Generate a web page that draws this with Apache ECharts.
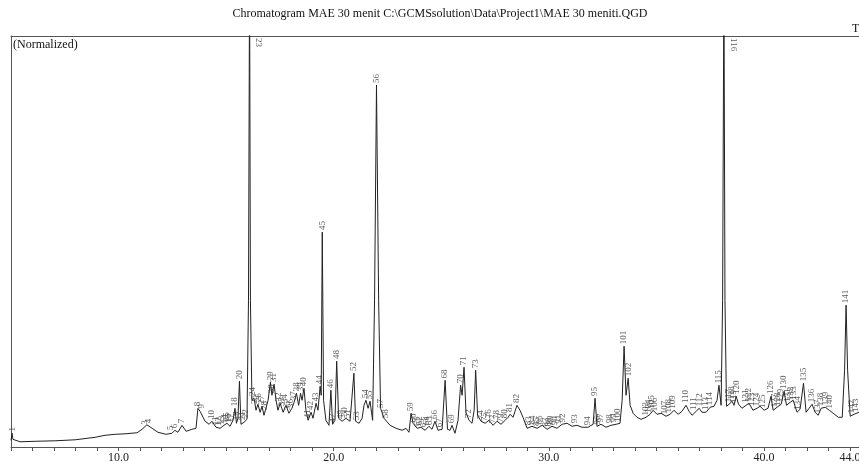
<!DOCTYPE html>
<html>
<head>
<meta charset="utf-8">
<script src="https://cdn.jsdelivr.net/npm/echarts@6/dist/echarts.min.js"></script>
<style>
html,body{margin:0;padding:0;background:#fff;}
#chart{width:859px;height:466px;}
</style>
</head>
<body>
<div id="chart"></div>
<script>
// Retention time (min) of trace points
var retentionTimes = [
5.00,5.05,5.09,5.42,6.12,7.05,7.98,8.91,9.37,9.84,10.30,10.86,11.09,11.32,11.56,11.83,12.21,12.48,12.62,12.76,
12.95,13.14,13.41,13.60,13.69,13.79,13.88,14.02,14.21,14.34,14.53,14.72,14.90,15.04,15.18,15.32,15.41,15.48,15.55,15.62,
15.69,15.83,15.97,16.04,16.09,16.13,16.20,16.30,16.39,16.48,16.58,16.67,16.76,16.85,16.95,17.06,17.13,17.23,17.32,17.41,
17.51,17.65,17.78,17.92,18.06,18.16,18.27,18.37,18.46,18.53,18.62,18.71,18.81,18.95,19.04,19.18,19.27,19.37,19.42,19.47,
19.53,19.64,19.78,19.87,19.95,20.06,20.14,20.23,20.39,20.57,20.76,20.85,20.94,21.02,21.18,21.32,21.41,21.50,21.60,21.69,
21.81,21.90,21.99,22.09,22.18,22.34,22.62,22.90,23.18,23.36,23.50,23.60,23.69,23.88,24.06,24.25,24.43,24.57,24.71,24.85,
25.04,25.18,25.29,25.41,25.50,25.64,25.78,25.90,25.97,26.06,26.15,26.29,26.43,26.53,26.60,26.69,26.85,27.04,27.22,27.41,
27.59,27.78,27.97,28.11,28.20,28.34,28.52,28.66,28.80,28.99,29.22,29.45,29.69,29.92,30.15,30.38,30.62,30.85,31.08,31.31,
31.55,31.82,32.06,32.15,32.24,32.43,32.66,32.89,33.13,33.31,33.41,33.50,33.59,33.69,33.78,33.92,34.10,34.29,34.52,34.71,
34.85,35.03,35.22,35.45,35.64,35.82,36.01,36.19,36.38,36.52,36.66,36.85,36.99,37.12,37.31,37.50,37.68,37.82,37.91,38.01,
38.08,38.14,38.19,38.26,38.38,38.52,38.61,38.71,38.82,38.98,39.17,39.31,39.49,39.68,39.82,40.01,40.19,40.33,40.43,40.61,
40.80,40.94,41.05,41.22,41.36,41.54,41.68,41.84,41.96,42.10,42.24,42.38,42.52,42.66,42.85,43.04,43.22,43.46,43.64,43.75,
43.82,43.89,44.01,44.19,44.42
];
// Normalized intensity (% of full scale) of trace points
var intensities = [
1.63,3.34,1.87,1.27,1.39,1.51,1.75,2.36,2.85,3.09,3.21,3.46,4.31,5.41,4.55,3.58,3.09,3.34,4.07,3.58,
5.28,3.82,4.31,4.55,9.42,8.69,8.94,6.26,5.53,6.26,4.80,4.55,5.28,5.77,5.04,6.50,9.42,5.77,6.99,16.00,
5.53,6.01,6.74,35.72,115,35.72,11.37,11.86,8.94,10.40,8.45,9.91,7.72,9.42,11.37,15.75,12.59,15.27,11.37,8.94,
10.64,8.45,10.15,8.21,9.42,10.88,13.07,10.15,13.07,11.37,14.29,8.94,6.50,8.45,6.99,10.64,8.94,14.78,12.59,52.28,
11.37,6.50,5.28,13.81,5.53,6.50,20.87,6.99,6.26,6.99,6.26,6.74,17.95,6.26,5.77,6.99,10.15,11.37,9.42,11.13,
6.50,35.72,88.07,35.72,9.42,6.99,5.28,4.55,4.07,4.55,3.58,8.21,5.77,4.55,4.80,4.07,5.04,4.31,6.26,4.07,
4.31,16.24,4.31,4.07,5.28,3.34,6.50,15.02,12.59,19.40,8.45,6.50,5.77,8.94,18.68,7.72,6.26,5.77,6.50,5.28,
6.26,5.53,6.50,7.23,7.96,7.23,10.15,8.94,7.23,4.55,5.04,4.55,5.28,4.31,5.04,4.55,5.53,5.77,5.04,5.28,
4.80,4.80,5.53,11.86,5.04,5.53,4.80,5.28,5.53,5.77,11.37,24.52,12.59,16.73,10.15,8.21,7.23,6.74,7.23,7.96,
8.94,7.96,8.21,7.48,7.96,8.94,7.96,8.69,10.15,8.69,7.72,8.69,9.42,8.45,8.45,9.67,9.91,11.37,15.02,10.15,
35.72,115,35.72,9.91,10.40,11.13,10.15,12.35,10.40,9.42,10.15,10.64,8.94,9.42,9.91,8.94,9.42,12.35,8.94,9.67,
10.40,13.56,10.15,10.88,11.37,8.45,9.18,15.51,8.45,9.42,10.40,8.45,7.72,9.42,9.67,8.94,8.21,7.23,7.23,18.68,
34.50,18.68,7.48,7.96,8.45
];
// Peak numbers, their retention times and apex heights
var peakNumbers = [
'1','3','4','5','6','7','8','9','10','11','12','13','14','15','16','17','18','19','20','21',
'22','23','24','25','26','27','28','29','30','31','32','33','34','35','36','37','38','39','40','41',
'42','43','44','45','46','47','48','49','50','51','52','53','54','55','56','57','58','59','60','61',
'62','63','64','65','66','67','68','69','70','71','72','73','74','75','76','77','78','79','80','81',
'82','83','84','85','86','87','88','89','90','91','92','93','94','95','96','97','98','99','100','101',
'102','103','104','105','106','107','108','109','110','111','112','113','114','115','116','117','118','119','120','121',
'122','123','124','125','126','127','128','129','130','131','132','133','134','135','136','137','138','139','140','141',
'142','143'
];
var peakTimes = [
5.09,11.23,11.42,12.44,12.62,12.95,13.69,13.88,14.34,14.53,14.67,14.81,14.95,15.04,15.13,15.23,15.41,15.50,15.62,15.79,
15.93,16.09,16.25,16.34,16.53,16.67,16.81,17.06,17.13,17.23,17.46,17.60,17.74,17.88,18.02,18.13,18.27,18.46,18.62,18.81,
18.95,19.18,19.37,19.47,19.87,19.97,20.14,20.34,20.53,20.67,20.94,21.09,21.50,21.69,21.99,22.20,22.43,23.60,23.74,23.88,
24.01,24.20,24.34,24.48,24.71,24.94,25.18,25.50,25.90,26.06,26.29,26.60,26.85,27.04,27.22,27.41,27.59,27.78,27.97,28.20,
28.52,29.08,29.27,29.45,29.59,29.83,29.97,30.10,30.29,30.48,30.66,31.22,31.82,32.15,32.29,32.43,32.85,33.03,33.22,33.50,
33.69,34.52,34.66,34.80,34.94,35.40,35.59,35.78,36.38,36.75,36.99,37.31,37.50,37.91,38.14,38.38,38.52,38.61,38.71,39.17,
39.31,39.45,39.68,39.96,40.33,40.52,40.66,40.80,40.94,41.12,41.26,41.40,41.59,41.84,42.24,42.52,42.66,42.85,43.04,43.82,
44.10,44.28
];
var peakHeights = [
3.3,5.0,5.3,3.6,4.1,5.3,9.4,8.9,6.3,4.8,4.6,5.0,5.3,5.8,5.5,5.5,9.4,6.0,16.0,6.0,
6.5,100,11.9,10.0,10.4,9.9,8.5,15.75,12.6,15.3,10.6,9.5,10.2,8.5,9.0,10.9,13.1,13.1,14.3,6.5,
8.5,10.6,14.8,52.3,13.8,5.5,20.9,6.3,7.0,6.5,18.0,6.0,11.4,11.1,88.1,9.0,6.5,8.2,5.5,4.6,
4.8,4.3,4.8,4.8,6.3,4.3,16.2,5.3,15.0,19.4,6.5,18.7,6.3,5.8,6.5,5.3,6.3,5.5,6.5,8.0,
10.2,4.8,5.0,4.6,5.0,4.5,4.5,5.0,4.8,5.2,5.5,5.3,4.8,11.9,5.0,5.5,5.3,5.5,5.6,24.5,
16.7,7.2,7.8,8.8,8.2,7.5,7.9,8.8,10.2,8.5,9.4,8.5,9.7,15.0,100,10.4,11.1,10.2,12.4,10.2,
10.6,9.5,9.4,9.0,12.4,9.2,9.5,10.4,13.6,10.5,10.9,11.0,8.6,15.5,10.4,7.7,9.4,9.7,8.9,34.5,
7.7,8.0
];
var xTickLabels = [10, 20, 30, 40, 44];
var chartTitle = 'Chromatogram MAE 30 menit C:\\GCMSsolution\\Data\\Project1\\MAE 30 meniti.QGD';

var SERIF = '"Liberation Serif","Times New Roman",serif';
var chart = echarts.init(document.getElementById('chart'), null, {renderer: 'canvas'});

var traceData = retentionTimes.map(function (t, i) { return [t, intensities[i]]; });
var labelData = peakNumbers.map(function (n, i) {
  var item = {value: [peakTimes[i], peakHeights[i]], name: n};
  if (peakHeights[i] >= 100) {
    item.label = {position: [9, 2], rotate: -90, align: 'left', verticalAlign: 'middle'};
  }
  return item;
});

chart.setOption({
  animation: false,
  backgroundColor: '#fff',
  grid: {left: 11, right: 0, top: 36, bottom: 19, show: false, containLabel: false, outerBoundsMode: 'none'},
  graphic: [
    {type: 'text', x: 440, y: 8, style: {text: chartTitle, font: '12px ' + SERIF, fill: '#111', textAlign: 'center'}},
    {type: 'text', x: 13, y: 39, style: {text: '(Normalized)', font: '12px ' + SERIF, fill: '#111'}},
    {type: 'text', x: 852, y: 23, style: {text: 'TIC', font: '12px ' + SERIF, fill: '#111'}}
  ],
  xAxis: [{
    type: 'value', min: 5, max: 44.42, interval: 1,
    axisLine: {show: true, lineStyle: {color: '#555', width: 1}},
    axisTick: {show: true, length: 4, lineStyle: {color: '#555'}},
    splitLine: {show: false},
    axisLabel: {
      margin: 5, color: '#222', fontFamily: SERIF, fontSize: 12,
      showMinLabel: true, showMaxLabel: true,
      formatter: function (v) {
        var r = Math.round(v);
        if (Math.abs(v - r) < 1e-6 && xTickLabels.indexOf(r) >= 0) return r.toFixed(1);
        return '';
      }
    }
  }, {
    type: 'value', position: 'top', min: 5, max: 44.42,
    axisLine: {show: true, lineStyle: {color: '#555', width: 1}},
    axisTick: {show: false}, axisLabel: {show: false}, splitLine: {show: false}
  }],
  yAxis: {
    type: 'value', min: 0, max: 100,
    axisLine: {show: true, lineStyle: {color: '#555'}},
    axisTick: {show: false}, axisLabel: {show: false}, splitLine: {show: false}
  },
  series: [
    {
      type: 'line', xAxisIndex: 0, data: traceData, showSymbol: false, symbol: 'none', clip: true,
      lineStyle: {color: '#222', width: 1}, z: 3
    },
    {
      type: 'scatter', xAxisIndex: 0, data: labelData, symbolSize: 0, clip: false, silent: true, z: 4,
      label: {
        show: true, position: 'top', distance: 2, rotate: 90, align: 'left', verticalAlign: 'middle',
        formatter: function (p) { return p.name; },
        fontFamily: SERIF, fontSize: 9, color: '#333'
      },
      labelLayout: {hideOverlap: false}
    }
  ]
});
</script>
</body>
</html>
